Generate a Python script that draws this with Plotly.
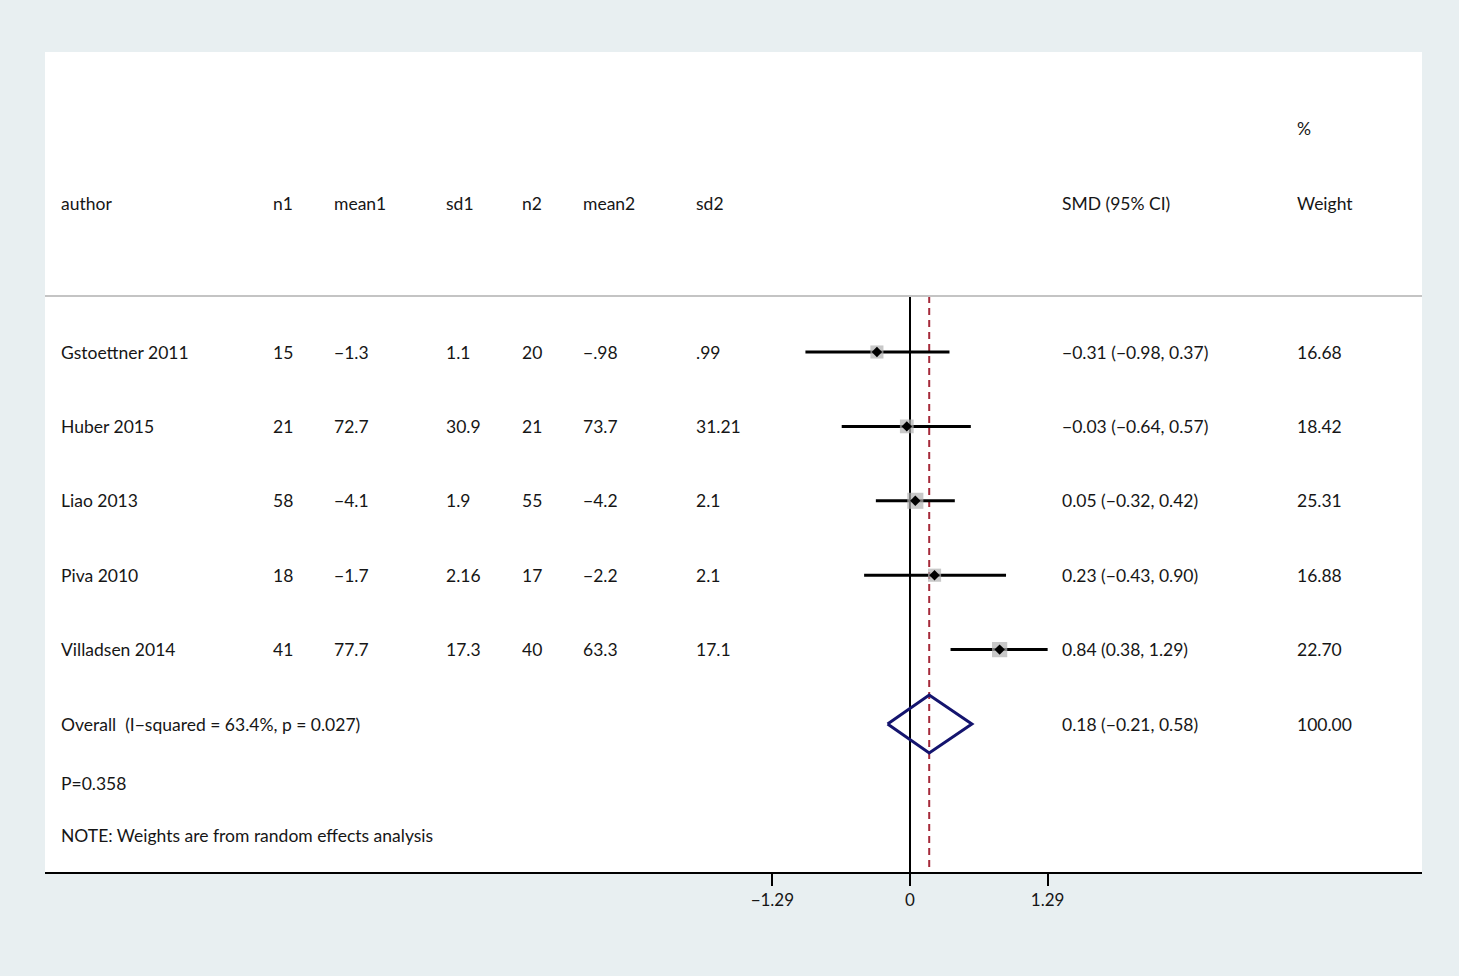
import plotly.graph_objects as go

# ---------------- data ----------------
authors = ["Gstoettner 2011", "Huber 2015", "Liao 2013", "Piva 2010", "Villadsen 2014"]
n1 = [15, 21, 58, 18, 41]
mean1 = [-1.3, 72.7, -4.1, -1.7, 77.7]
sd1 = [1.1, 30.9, 1.9, 2.16, 17.3]
n2 = [20, 21, 55, 17, 40]
mean2 = [-0.98, 73.7, -4.2, -2.2, 63.3]
sd2 = [0.99, 31.21, 2.1, 2.1, 17.1]
smd = [-0.31, -0.03, 0.05, 0.23, 0.84]
ci_low = [-0.98, -0.64, -0.32, -0.43, 0.38]
ci_high = [0.37, 0.57, 0.42, 0.90, 1.29]
weights = [16.68, 18.42, 25.31, 16.88, 22.70]

overall_label = "Overall  (I\u2212squared = 63.4%, p = 0.027)"
overall_smd = 0.18
overall_low = -0.21
overall_high = 0.58
overall_weight = 100.00
p_text = "P=0.358"
note_text = "NOTE: Weights are from random effects analysis"
headers = ["author", "n1", "mean1", "sd1", "n2", "mean2", "sd2", "SMD (95% CI)", "Weight"]
tick_vals = [-1.29, 0, 1.29]

MINUS = "\u2212"

def stata(v):
    s = f"{v:g}"
    if abs(v) < 1:
        s = s.replace("0.", ".", 1)
    return s.replace("-", MINUS)

def f2(v):
    return f"{v:.2f}".replace("-", MINUS)

# ---------------- layout geometry ----------------
W, H = 1459, 976
L, R, T, B = 45, 1422, 52, 872
PW = R - L
X0PX, XSCALE = 910, 106.7          # pixel of x=0, px per unit
xr = [(L - X0PX) / XSCALE, (R - X0PX) / XSCALE]
ROW0, ROWSP = 352, 74.4
yr = [(B - ROW0) / ROWSP, (T - ROW0) / ROWSP]

def px2paper(px):
    return (px - L) / PW

col_px = [59, 271, 332, 444, 520, 581, 694, 1060, 1295]
FONT = dict(family="Lato", size=17.5, color="#161616")

fig = go.Figure()

nrows = len(authors)
rows = list(range(nrows))
sep_y = (296 - ROW0) / ROWSP

# zero line and overall dashed line
fig.add_trace(go.Scatter(x=[0, 0], y=[sep_y, yr[0]], mode="lines",
                         line=dict(color="black", width=2), hoverinfo="skip", showlegend=False))
fig.add_trace(go.Scatter(x=[overall_smd, overall_smd], y=[sep_y, yr[0]], mode="lines",
                         line=dict(color="#a52a3a", width=2, dash="7px,5px"),
                         hoverinfo="skip", showlegend=False))

# CI lines
for i in rows:
    fig.add_trace(go.Scatter(x=[ci_low[i], ci_high[i]], y=[i, i], mode="lines",
                             line=dict(color="black", width=3), hoverinfo="skip", showlegend=False))

# weight boxes
fig.add_trace(go.Scatter(x=smd, y=rows, mode="markers",
                         marker=dict(symbol="square", color="#b0b0b0",
                                     size=[3.2 * w ** 0.5 for w in weights], line=dict(width=0)),
                         hoverinfo="skip", showlegend=False))
# point estimates
fig.add_trace(go.Scatter(x=smd, y=rows, mode="markers",
                         marker=dict(symbol="diamond", color="black", size=8, line=dict(width=0)),
                         hoverinfo="skip", showlegend=False))

# overall diamond
oy = nrows
dh = 0.39
fig.add_trace(go.Scatter(x=[overall_low, overall_smd, overall_high, overall_smd, overall_low],
                         y=[oy, oy - dh, oy, oy + dh, oy], mode="lines",
                         line=dict(color="#14146e", width=3), hoverinfo="skip", showlegend=False))

# separator line
fig.add_shape(type="line", xref="paper", yref="y", x0=0, x1=1, y0=sep_y, y1=sep_y,
              line=dict(color="#c4c4c4", width=2))

annots = []
def add_text(px, y, text):
    annots.append(dict(x=px2paper(px), y=y, xref="paper", yref="y", text=text, showarrow=False,
                       xanchor="left", yanchor="middle", font=FONT))

# headers
for px, h in zip(col_px, headers):
    add_text(px, -2, h)
add_text(col_px[8], -3, "%")

for i in rows:
    vals = [authors[i], str(n1[i]), stata(mean1[i]), stata(sd1[i]), str(n2[i]),
            stata(mean2[i]), stata(sd2[i]),
            f"{f2(smd[i])} ({f2(ci_low[i])}, {f2(ci_high[i])})", f2(weights[i])]
    for px, v in zip(col_px, vals):
        add_text(px, i, v)

add_text(col_px[0], oy, overall_label)
add_text(col_px[7], oy, f"{f2(overall_smd)} ({f2(overall_low)}, {f2(overall_high)})")
add_text(col_px[8], oy, f2(overall_weight))
add_text(col_px[0], (783 - ROW0) / ROWSP, p_text)
add_text(col_px[0], (835 - ROW0) / ROWSP, note_text)

fig.update_layout(
    width=W, height=H,
    margin=dict(l=L, r=W - R, t=T, b=H - B, pad=0),
    paper_bgcolor="#e8eff1", plot_bgcolor="white",
    annotations=annots,
    xaxis=dict(range=xr, tickvals=tick_vals,
               ticktext=[f"{v:g}".replace("-", MINUS) for v in tick_vals],
               ticks="outside", ticklen=12, tickwidth=2, tickcolor="black",
               showline=True, linecolor="black", linewidth=2, showgrid=False, zeroline=False,
               tickfont=dict(family="Lato", size=17, color="#161616"), fixedrange=True),
    yaxis=dict(range=yr, visible=False, showgrid=False, zeroline=False, fixedrange=True),
    showlegend=False,
)

fig.write_html("out.html", config={"displayModeBar": False},
               post_script="document.body.style.margin='0';document.body.style.overflow='hidden';")
